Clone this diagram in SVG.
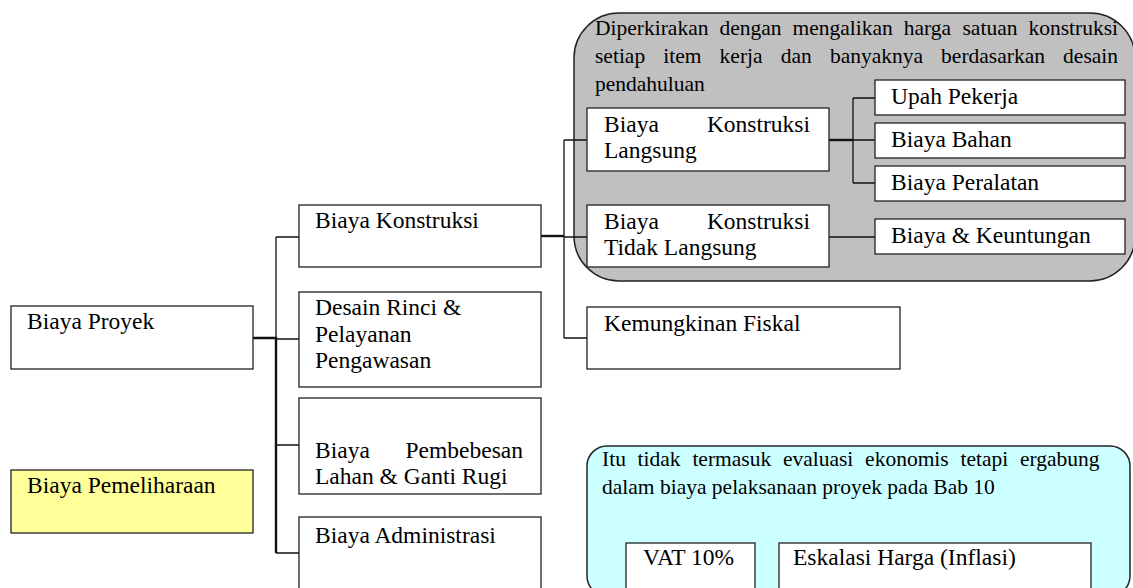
<svg xmlns="http://www.w3.org/2000/svg" width="1133" height="588" viewBox="0 0 1133 588">
<style>
.b{fill:#fff;stroke:#222;stroke-width:1.3}
.t{font-family:"Liberation Serif","Times New Roman",serif;font-size:23.5px;fill:#000}
.n{font-family:"Liberation Serif","Times New Roman",serif;font-size:21.5px;fill:#000}
.c{fill:none;stroke:#111;stroke-width:1.3}
.ck{fill:none;stroke:#111;stroke-width:2.4}
</style>
<rect width="1133" height="588" fill="#fff"/>
<g id="note-gray">
<rect x="574" y="13" width="561" height="268" rx="45" fill="#C0C0C0" stroke="#222" stroke-width="1.5"/>
<text class="n" y="35"><tspan x="595">Diperkirakan</tspan><tspan x="719.4">dengan</tspan><tspan x="792.5">mengalikan</tspan><tspan x="903.8">harga</tspan><tspan x="962.5">satuan</tspan><tspan x="1028.4">konstruksi</tspan></text>
<text class="n" y="63"><tspan x="595">setiap</tspan><tspan x="663.3">item</tspan><tspan x="719.6">kerja</tspan><tspan x="780.7">dan</tspan><tspan x="829.9">banyaknya</tspan><tspan x="941.1">berdasarkan</tspan><tspan x="1063.1">desain</tspan></text>
<text class="n" x="595" y="91">pendahuluan</text>
</g>
<g id="note-cyan">
<rect x="587" y="446" width="543" height="150" rx="20" fill="#CCFFFF" stroke="#222" stroke-width="1.5"/>
<text class="n" y="466"><tspan x="602">Itu</tspan><tspan x="637.6">tidak</tspan><tspan x="692.4">termasuk</tspan><tspan x="782.9">evaluasi</tspan><tspan x="865.1">ekonomis</tspan><tspan x="960.5">tetapi</tspan><tspan x="1020">ergabung</tspan></text>
<text class="n" x="602" y="494">dalam biaya pelaksanaan proyek pada Bab 10</text>
</g>
<g id="connectors">
<path class="ck" d="M253,338 H276 V553"/>
<path class="c" d="M276,237 V553 M276,237 H299 M276,339 H299 M276,445 H299 M276,553 H299"/>
<path class="ck" d="M541,236 H564"/>
<path class="c" d="M564,140 V338 M564,140 H587 M564,237 H587 M564,338 H587"/>
<path class="ck" d="M829,140 H853"/>
<path class="c" d="M853,98 V183 M853,98 H875 M853,140 H875 M853,183 H875 M829,237 H875"/>
</g>
<g id="biaya-proyek"><rect class="b" x="11" y="306" width="242" height="63"/><text class="t" x="27" y="329">Biaya Proyek</text></g>
<g id="biaya-pemeliharaan"><rect class="b" x="11" y="470" width="242" height="63" style="fill:#FFFF99"/><text class="t" x="27" y="493">Biaya Pemeliharaan</text></g>
<g id="biaya-konstruksi"><rect class="b" x="299" y="205" width="242" height="62"/><text class="t" x="315" y="228">Biaya Konstruksi</text></g>
<g id="desain-rinci"><rect class="b" x="299" y="292" width="242" height="95"/><text class="t"><tspan x="315" y="315">Desain Rinci &amp;</tspan><tspan x="315" y="342">Pelayanan</tspan><tspan x="315" y="368">Pengawasan</tspan></text></g>
<g id="biaya-pembebesan"><rect class="b" x="299" y="398" width="242" height="96"/><text class="t"><tspan x="315" y="458">Biaya</tspan><tspan x="405.5" y="458">Pembebesan</tspan><tspan x="315" y="484">Lahan &amp; Ganti Rugi</tspan></text></g>
<g id="biaya-administrasi"><rect class="b" x="299" y="517" width="242" height="80"/><text class="t" x="315" y="543">Biaya Administrasi</text></g>
<g id="konstruksi-langsung"><rect class="b" x="587" y="108" width="242" height="63"/><text class="t"><tspan x="604" y="132">Biaya</tspan><tspan x="706.9" y="132">Konstruksi</tspan><tspan x="604" y="158">Langsung</tspan></text></g>
<g id="konstruksi-tidak-langsung"><rect class="b" x="587" y="205" width="242" height="62"/><text class="t"><tspan x="604" y="229">Biaya</tspan><tspan x="706.9" y="229">Konstruksi</tspan><tspan x="604" y="255">Tidak Langsung</tspan></text></g>
<g id="upah-pekerja"><rect class="b" x="875" y="80" width="250" height="35"/><text class="t" x="891" y="104">Upah Pekerja</text></g>
<g id="biaya-bahan"><rect class="b" x="875" y="123" width="250" height="35"/><text class="t" x="891" y="147">Biaya Bahan</text></g>
<g id="biaya-peralatan"><rect class="b" x="875" y="166" width="250" height="35"/><text class="t" x="891" y="190">Biaya Peralatan</text></g>
<g id="biaya-keuntungan"><rect class="b" x="875" y="219" width="250" height="35"/><text class="t" x="891" y="243">Biaya &amp; Keuntungan</text></g>
<g id="kemungkinan-fiskal"><rect class="b" x="587" y="307" width="313" height="62"/><text class="t" x="604" y="331">Kemungkinan Fiskal</text></g>
<g id="vat"><rect class="b" x="626" y="543" width="129" height="60"/><text class="t" x="643" y="565">VAT 10%</text></g>
<g id="eskalasi"><rect class="b" x="779" y="543" width="312" height="60"/><text class="t" x="793" y="565">Eskalasi Harga (Inflasi)</text></g>
</svg>
